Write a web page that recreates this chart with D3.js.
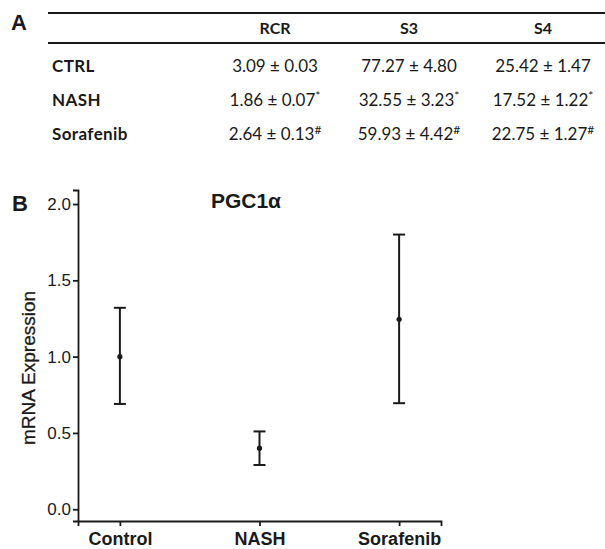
<!DOCTYPE html>
<html>
<head>
<meta charset="utf-8">
<script src="https://cdn.jsdelivr.net/npm/d3@7"></script>
<style>
  body { margin: 0; background: #fff; }
  svg { display: block; }
  text { fill: #1a1a1a; }
</style>
</head>
<body>
<div id="chart"></div>
<script>
// panel A table
var tableColumns = ["RCR", "S3", "S4"];
var tableRows = ["CTRL", "NASH", "Sorafenib"];
var tableMeans = [
  ["3.09", "77.27", "25.42"],
  ["1.86", "32.55", "17.52"],
  ["2.64", "59.93", "22.75"]
];
var tableErrors = [
  ["0.03", "4.80", "1.47"],
  ["0.07", "3.23", "1.22"],
  ["0.13", "4.42", "1.27"]
];
var rowMarks = ["", "*", "#"];

// panel B
var groups = ["Control", "NASH", "Sorafenib"];
var means = [1.00, 0.40, 1.245];
var upper = [1.32, 0.51, 1.80];
var lower = [0.69, 0.29, 0.695];
var yTicks = [0, 0.5, 1.0, 1.5, 2.0];

var WIDTH = 605, HEIGHT = 549;
var INK = "#1a1a1a";
var TABLE_FONT = "Lato, 'Open Sans', sans-serif";
var CHART_FONT = "'Liberation Sans', Arial, sans-serif";

var svg = d3.select("#chart").append("svg")
  .attr("width", WIDTH)
  .attr("height", HEIGHT);

// ---- table ----
var colX = d3.scalePoint().domain(tableColumns).range([275, 543]);
var rowY = d3.scalePoint().domain(tableRows).range([72, 140]);

svg.append("text")
  .attr("x", 11).attr("y", 30)
  .style("font-family", CHART_FONT)
  .style("font-weight", "bold")
  .style("font-size", "22px")
  .text("A");

[13, 43].forEach(function(y) {
  svg.append("line")
    .attr("x1", 48).attr("x2", WIDTH)
    .attr("y1", y).attr("y2", y)
    .style("stroke", INK)
    .style("stroke-width", 2);
});

svg.selectAll("text.colhead")
  .data(tableColumns)
  .enter().append("text")
  .attr("class", "colhead")
  .attr("x", function(d) { return colX(d); })
  .attr("y", 34)
  .attr("text-anchor", "middle")
  .style("font-family", TABLE_FONT)
  .style("font-weight", "bold")
  .style("font-size", "16px")
  .text(function(d) { return d; });

svg.selectAll("text.rowhead")
  .data(tableRows)
  .enter().append("text")
  .attr("class", "rowhead")
  .attr("x", 52)
  .attr("y", function(d) { return rowY(d); })
  .style("font-family", TABLE_FONT)
  .style("font-weight", "bold")
  .style("font-size", "17px")
  .style("letter-spacing", "0.4px")
  .text(function(d) { return d; });

tableRows.forEach(function(row, i) {
  tableColumns.forEach(function(col, j) {
    var t = svg.append("text")
      .attr("x", colX(col))
      .attr("y", rowY(row))
      .attr("text-anchor", "middle")
      .style("font-family", TABLE_FONT)
      .style("font-size", "17px")
      .style("white-space", "pre");
    t.append("tspan").text(tableMeans[i][j] + " \u00b1 " + tableErrors[i][j]);
    if (rowMarks[i]) {
      t.append("tspan")
        .attr("dy", -6)
        .style("font-size", "12px")
        .text(rowMarks[i]);
    }
  });
});

// ---- chart ----
var x = d3.scalePoint().domain(groups).range([78, 441]).padding(0.3);
var y = d3.scaleLinear().domain([-0.077, 2.092]).range([521, 190]);

svg.append("text")
  .attr("x", 12).attr("y", 211)
  .style("font-family", CHART_FONT)
  .style("font-weight", "bold")
  .style("font-size", "22px")
  .text("B");

svg.append("text")
  .attr("x", 246).attr("y", 208)
  .attr("text-anchor", "middle")
  .style("font-family", CHART_FONT)
  .style("font-weight", "bold")
  .style("font-size", "21px")
  .text("PGC1\u03b1");

var yAxis = svg.append("g")
  .attr("transform", "translate(78,0)")
  .call(d3.axisLeft(y).tickValues(yTicks).tickFormat(d3.format(".1f")).tickSizeOuter(0).tickSize(5).tickPadding(2));

var xAxis = svg.append("g")
  .attr("transform", "translate(0,521)")
  .call(d3.axisBottom(x).tickSizeOuter(0).tickSize(5).tickPadding(6));

[yAxis, xAxis].forEach(function(g) {
  g.selectAll("path, line").style("stroke", INK).style("stroke-width", 1.8);
});
yAxis.selectAll("text")
  .style("font-family", CHART_FONT)
  .style("font-size", "17px")
  .style("fill", INK);
xAxis.selectAll("text")
  .style("font-family", CHART_FONT)
  .style("font-size", "18px")
  .style("font-weight", "bold")
  .style("fill", INK);

svg.append("text")
  .attr("transform", "translate(35,368) rotate(-90)")
  .attr("text-anchor", "middle")
  .style("font-family", CHART_FONT)
  .style("font-size", "19px")
  .style("stroke", INK)
  .style("stroke-width", 0.3)
  .text("mRNA Expression");

var CAP = 6;
var bars = svg.selectAll("g.err")
  .data(groups)
  .enter().append("g")
  .attr("class", "err");

bars.append("line")
  .attr("x1", function(d) { return x(d); })
  .attr("x2", function(d) { return x(d); })
  .attr("y1", function(d, i) { return y(upper[i]); })
  .attr("y2", function(d, i) { return y(lower[i]); });

bars.append("line")
  .attr("x1", function(d) { return x(d) - CAP; })
  .attr("x2", function(d) { return x(d) + CAP; })
  .attr("y1", function(d, i) { return y(upper[i]); })
  .attr("y2", function(d, i) { return y(upper[i]); });

bars.append("line")
  .attr("x1", function(d) { return x(d) - CAP; })
  .attr("x2", function(d) { return x(d) + CAP; })
  .attr("y1", function(d, i) { return y(lower[i]); })
  .attr("y2", function(d, i) { return y(lower[i]); });

bars.selectAll("line")
  .style("stroke", INK)
  .style("stroke-width", 2);

bars.append("circle")
  .attr("cx", function(d) { return x(d); })
  .attr("cy", function(d, i) { return y(means[i]); })
  .attr("r", 2.6)
  .style("fill", INK);
</script>
</body>
</html>
